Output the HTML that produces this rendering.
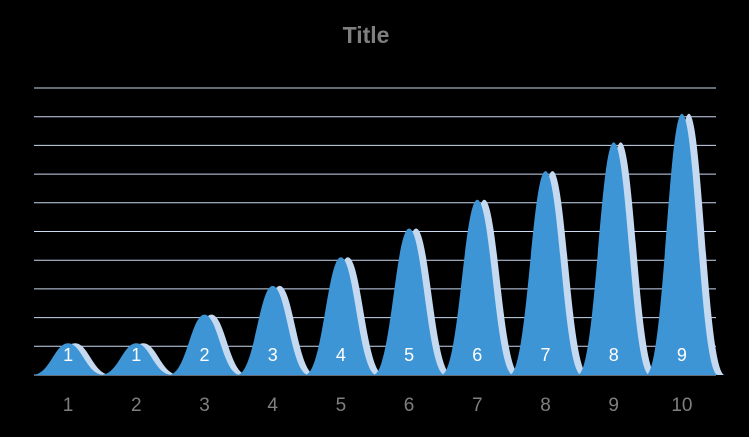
<!DOCTYPE html>
<html><head><meta charset="utf-8"><style>
body{margin:0;background:#000;}
svg{display:block;font-family:"Liberation Sans",sans-serif;}
</style></head><body>
<svg id="chart" width="749" height="437">
<rect width="749" height="437" fill="#000"/>
<text x="366" y="43" text-anchor="middle" font-size="23" font-weight="bold" fill="#7f7f7f">Title</text>
<g id="grid"></g>
<g id="marks"></g>
<g id="xaxis"></g>
</svg>
<script>
const categories=["1","2","3","4","5","6","7","8","9","10"];
const values=[1,1,2,3,4,5,6,7,8,9];
const yMax=10, yStep=1;
const L=34,R=716,B=375,T=88;
const bw=(R-L)/categories.length;
const x=i=>L+bw*(i+0.5);
const y=v=>B-(v/yMax)*(B-T);
const NS="http://www.w3.org/2000/svg";
function mk(t,a,p){const e=document.createElementNS(NS,t);for(const k in a)e.setAttribute(k,a[k]);p.appendChild(e);return e;}
const g=document.getElementById('grid');
for(let v=0;v<=yMax;v+=yStep){
  const l=mk('line',{x1:L,x2:R,y1:y(v),y2:y(v),stroke:'#c9d9f0','stroke-width':1},g);
  
  
}
function bell(c,top){
  const h=36;
  return `M${c-h},${B} C${c-h*0.5},${B} ${c-h*0.38},${top} ${c},${top} C${c+h*0.38},${top} ${c+h*0.5},${B} ${c+h},${B} Z`;
}
const m=document.getElementById('marks');
values.forEach((v,i)=>{
  const c=x(i),t=y(v)-3;
  const back=mk('path',{d:bell(c+7,t),fill:'#c5d9f1'},m);
  
  
});
values.forEach((v,i)=>{
  const c=x(i),t=y(v)-3;
  const p=mk('path',{d:bell(c,t),fill:'#3d95d5'},m);
  
  
  const tx=mk('text',{x:c,y:361,'text-anchor':'middle','font-size':18,fill:'#fff'},m);
  tx.textContent=v;
  
  
});
const xa=document.getElementById('xaxis');
categories.forEach((c,i)=>{
  const t=mk('text',{x:x(i),y:411,'text-anchor':'middle','font-size':19,fill:'#7f7f7f'},xa);
  t.textContent=c;
  
  
});
</script>
</body></html>
